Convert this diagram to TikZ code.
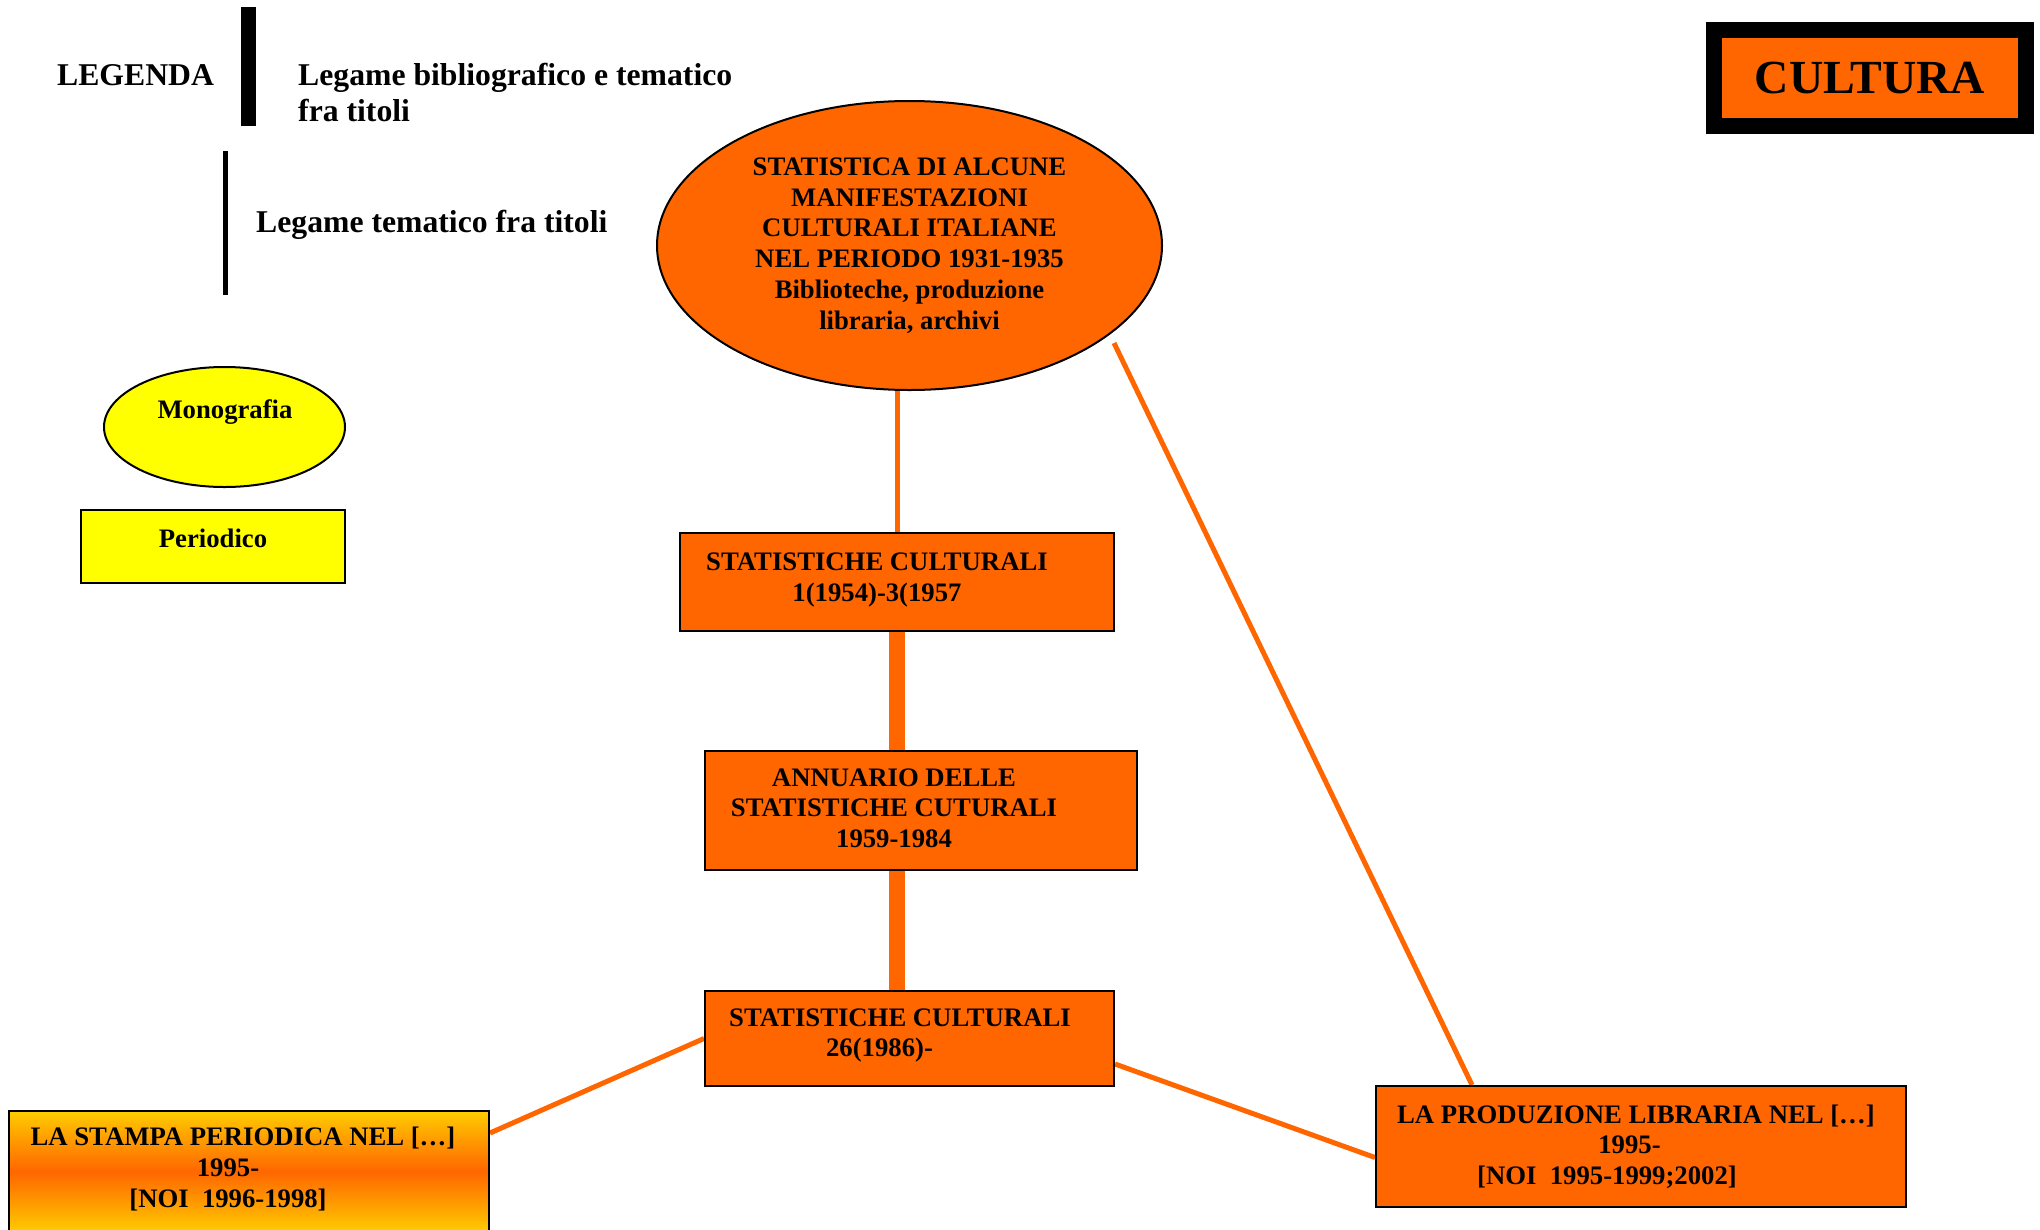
\documentclass[tikz,border=0pt]{standalone}
\usepackage{fontspec}
\setmainfont{Liberation Serif}
\usetikzlibrary{shapes.geometric,backgrounds,calc}
\definecolor{orng}{HTML}{FF6600}
\definecolor{ylw}{HTML}{FFFF00}
\definecolor{goldc}{HTML}{FFCC00}
\tikzset{
 obox/.style={draw=black, line width=2pt, fill=orng, rectangle, inner sep=0pt},
 boxtxt/.style={font=\bfseries\fontsize{26.7}{30.7}\selectfont, align=center, inner sep=0pt},
 legtxt/.style={font=\bfseries\fontsize{31.7}{36.4}\selectfont, inner sep=0pt},
 thinlink/.style={draw=orng, line width=5pt},
 thicklink/.style={draw=orng, line width=16pt},
}
\begin{document}
\begin{tikzpicture}[x=1pt,y=-1pt]
\useasboundingbox (0,0) rectangle (2040,1229);

% legend
\node[legtxt, anchor=base west] (leg) at (57,85) {LEGENDA};
\coordinate (b1t) at (248.5,7);
\coordinate (b1b) at (248.5,126);
\draw[line width=15pt] (b1t) -- (b1b);
\node[legtxt, anchor=north west, align=left] (l1) at (298,62.5) {Legame bibliografico e tematico\\fra titoli};
\coordinate (b2t) at (225.5,151);
\coordinate (b2b) at (225.5,295);
\draw[line width=5pt] (b2t) -- (b2b);
\node[legtxt, anchor=base west] (l2) at (256,232) {Legame tematico fra titoli};
\node[ellipse, draw, line width=2pt, fill=ylw, minimum width=241pt, minimum height=120pt, inner sep=0pt] (mono) at (224.5,427) {};
\node[boxtxt, anchor=base] (monot) at (225,418) {Monografia};
\node[rectangle, draw, line width=2pt, fill=ylw, minimum width=264pt, minimum height=73pt, inner sep=0pt] (peri) at (213,546.5) {};
\node[boxtxt, anchor=base] (perit) at (213,547) {Periodico};

% title
\node[draw=black, line width=16pt, fill=orng, minimum width=312.5pt, minimum height=96pt, inner sep=0pt, font=\bfseries\fontsize{47.5}{55}\selectfont] (cult) at (1870,78) {CULTURA};

% main nodes
\node[ellipse, draw, line width=2pt, fill=orng, minimum width=505pt, minimum height=289pt, inner sep=0pt, boxtxt] (e) at (909.5,245.5) {STATISTICA DI ALCUNE\\MANIFESTAZIONI\\CULTURALI ITALIANE\\NEL PERIODO 1931-1935\\Biblioteche, produzione\\libraria, archivi};

\node[obox, minimum width=434pt, minimum height=98pt] (s1) at (897,582) {};
\node[boxtxt] (s1t) at (877,580) {STATISTICHE CULTURALI\\1(1954)-3(1957};

\node[obox, minimum width=432pt, minimum height=119pt] (s2) at (921,810.5) {};
\node[boxtxt] (s2t) at (894,808) {ANNUARIO DELLE\\STATISTICHE CUTURALI\\1959-1984};

\node[obox, minimum width=409pt, minimum height=95pt] (s3) at (909.5,1038.5) {};
\node[boxtxt] (s3t) at (900,1035.5) {STATISTICHE CULTURALI\\26(1986)-\rule{41pt}{0pt}};

\node[draw=black, line width=2pt, rectangle, inner sep=0pt, top color=goldc, bottom color=goldc, middle color=orng, minimum width=480pt, minimum height=121pt] (st) at (249,1171.5) {};
\node[boxtxt] (stt) at (243,1169) {LA STAMPA PERIODICA NEL […]\\1995-\rule{30pt}{0pt}\\{[}NOI\ \ 1996-1998]\rule{30pt}{0pt}};

\node[obox, minimum width=530pt, minimum height=121pt] (prod) at (1641,1146.5) {};
\node[boxtxt] (prodt) at (1636,1146.5) {LA PRODUZIONE LIBRARIA NEL […]\\1995-\rule{13pt}{0pt}\\{[}NOI\ \ 1995-1999;2002]\rule{58pt}{0pt}};

% connectors
\begin{scope}[on background layer]
\draw[thinlink] (s1.north) -- (s1.north |- e.south);
\draw[thicklink] (s1.south) -- (s1.south |- s2.north);
\draw[thicklink] (s1.south |- s2.south) -- (s1.south |- s3.north);
\draw[thinlink] (s3.west) -- ($(st.north east)+(0,23)$);
\draw[thinlink] ($(s3.south east)+(0,-23)$) -- ($(prod.west)+(0,11)$);
\draw[thinlink] ($(e.center)+(204.5,97.5)$) -- ($(prod.north west)+(97,0)$);
\end{scope}
\end{tikzpicture}
\end{document}
